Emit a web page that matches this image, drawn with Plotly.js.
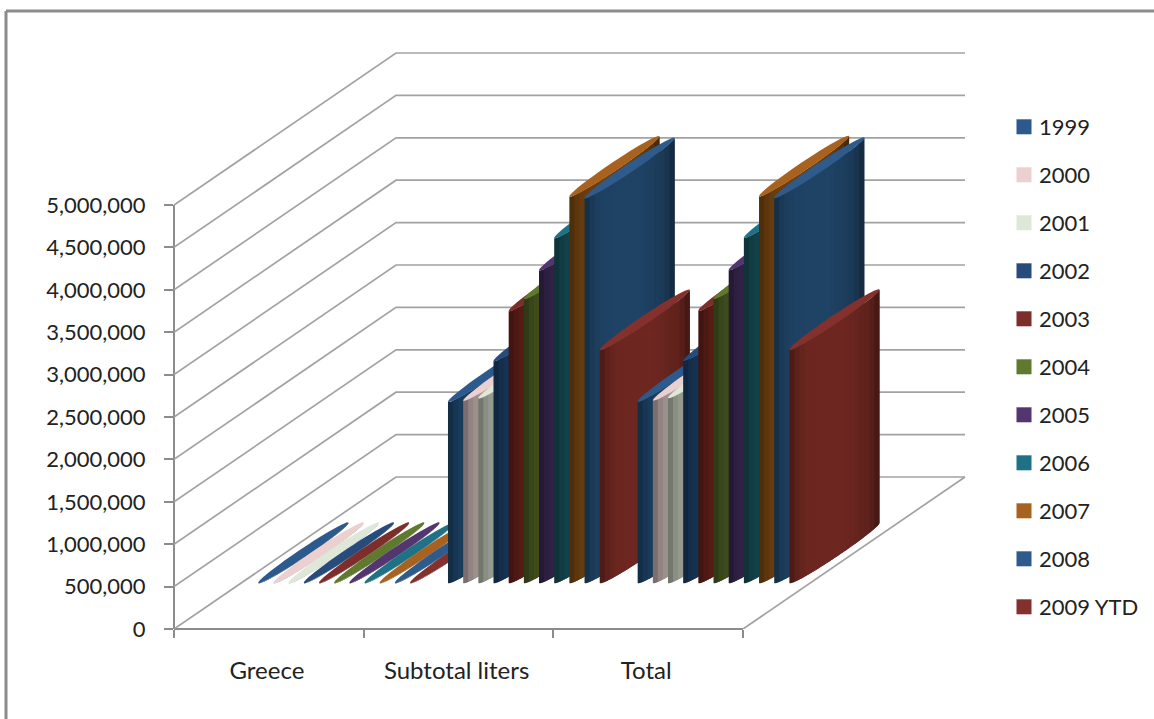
<!DOCTYPE html>
<html>
<head>
<meta charset="utf-8">
<title>Liters by year</title>
<script src="https://cdn.plot.ly/plotly-3.0.1.min.js"></script>
<style>
  html, body { margin: 0; padding: 0; background: #ffffff; overflow: hidden; }
  #chart { width: 1154px; height: 719px; }
</style>
</head>
<body>
<div id="chart"></div>
<script>
// Chart content
const categories = ['Greece', 'Subtotal liters', 'Total'];
const seriesNames = ['1999', '2000', '2001', '2002', '2003', '2004', '2005', '2006', '2007', '2008', '2009 YTD'];
const greeceLiters   = [3000, 3000, 3000, 3000, 3000, 3000, 3000, 3000, 3000, 3000, 3000];
const subtotalLiters = [2138000, 2150000, 2180000, 2620000, 3210000, 3350000, 3690000, 4070000, 4560000, 4540000, 2750000];
const totalLiters    = [2141000, 2153000, 2183000, 2623000, 3213000, 3353000, 3693000, 4073000, 4563000, 4543000, 2753000];
const valueTicks = [0, 500000, 1000000, 1500000, 2000000, 2500000, 3000000, 3500000, 4000000, 4500000, 5000000];

// Cap colour and the brightest side colour of each cylinder
const capColors  = ['#2c5a8c', '#ebd0cf', '#dee7d8', '#274c7c', '#7d2e2b', '#5f7a2e', '#53366f', '#1f7285', '#a8621f', '#2e5b8c', '#84312d'];
const sideColors = ['#1c4062', '#ab9b9a', '#a1a899', '#18365a', '#5c1e17', '#42521f', '#34254b', '#15474f', '#6f4011', '#1f4365', '#6e2720'];

// Side shading across the cylinder, from its left edge (0) to its right edge (1)
const shadeStops = [[0, .62], [.06, .82], [.17, .96], [.35, 1], [.6, 1], [.85, .88], [.95, .72], [1, .56]];
const BANDS = 18;

const valuesByCategory = [greeceLiters, subtotalLiters, totalLiters];
const axisTop = 5000000;
const gridColor = '#a2a2a2';
const axisColor = '#8c8c8c';
const textColor = '#222222';
const fontFamily = 'Lato, "Open Sans", sans-serif';

// Scale of the value axis and category axis, in page pixels
const FRONT_W = 569, FRONT_H = 424;
const CAT_PX = FRONT_W / categories.length;
const VALUE_PX = FRONT_H / axisTop;

// Oblique projection: a step along the depth axis moves right and up on the page
const SHIFT_X = 222, SHIFT_Y = 152;
const DEPTH_X = SHIFT_X / CAT_PX;     // category units at full depth
const DEPTH_V = SHIFT_Y / VALUE_PX;   // value units at full depth
const project = (cat, depth, value) => [cat + depth * DEPTH_X, value + depth * DEPTH_V];

// Cylinder footprint
const BAR_STEP = 0.08;       // category units between neighbouring series
const BAR_HALF = 0.04;
const BAR_START = 0.0968;
const DEPTH_MID = 0.5, DEPTH_HALF = 0.2;
// Ellipse angle at which the footprint has its left/right silhouette edge
const PHI = Math.atan((BAR_HALF * CAT_PX) / (DEPTH_HALF * SHIFT_X));

const footprint = (centre, t, value) =>
  project(centre + BAR_HALF * Math.cos(t), DEPTH_MID + DEPTH_HALF * Math.sin(t), value);

function shade(hex, f) {
  let k = 1;
  for (let i = 1; i < shadeStops.length; i++) {
    const [a, ka] = shadeStops[i - 1], [b, kb] = shadeStops[i];
    if (f <= b) { k = ka + (kb - ka) * (f - a) / (b - a); break; }
  }
  const n = parseInt(hex.slice(1), 16);
  return 'rgb(' + [(n >> 16) & 255, (n >> 8) & 255, n & 255].map(c => Math.round(c * k)).join(',') + ')';
}

function polygonTrace(xs, ys, color) {
  return {
    type: 'scatter', mode: 'none', x: xs, y: ys, fill: 'toself', fillcolor: color,
    hoverinfo: 'skip', showlegend: false
  };
}

const traces = [];

// Side wall and back wall gridlines
const gridX = [], gridY = [];
valueTicks.forEach(v => {
  [project(0, 0, v), project(0, 1, v), project(categories.length, 1, v)].forEach(p => { gridX.push(p[0]); gridY.push(p[1]); });
  gridX.push(null); gridY.push(null);
});
// Right edge of the floor
[project(categories.length, 0, 0), project(categories.length, 1, 0)].forEach(p => { gridX.push(p[0]); gridY.push(p[1]); });
traces.push({
  type: 'scatter', mode: 'lines', x: gridX, y: gridY, line: { color: gridColor, width: 1.7 },
  hoverinfo: 'skip', showlegend: false
});

// Cylinders: banded side surface, then the elliptical cap.
// Each band runs on under the next one so no seams show between them.
valuesByCategory.forEach((values, c) => {
  values.forEach((value, s) => {
    const centre = c + BAR_START + s * BAR_STEP;
    for (let b = 0; b < BANDS; b++) {
      const f0 = b / BANDS, f1 = Math.min(1, (b + 2) / BANDS);
      const t0 = Math.asin(2 * f0 - 1) - PHI, t1 = Math.asin(2 * f1 - 1) - PHI;
      const xs = [], ys = [];
      for (let i = 0; i <= 6; i++) {
        const p = footprint(centre, t0 + (t1 - t0) * i / 6, 0);
        xs.push(p[0]); ys.push(p[1]);
      }
      for (let i = 6; i >= 0; i--) {
        const p = footprint(centre, t0 + (t1 - t0) * i / 6, value);
        xs.push(p[0]); ys.push(p[1]);
      }
      xs.push(xs[0]); ys.push(ys[0]);
      traces.push(polygonTrace(xs, ys, shade(sideColors[s], (b + 0.5) / BANDS)));
    }
    const capX = [], capY = [];
    for (let i = 0; i <= 48; i++) {
      const p = footprint(centre, i / 48 * 2 * Math.PI, value);
      capX.push(p[0]); capY.push(p[1]);
    }
    traces.push(polygonTrace(capX, capY, capColors[s]));
  });
});

// Legend entries
seriesNames.forEach((name, s) => {
  traces.push({
    type: 'scatter', mode: 'markers', x: [null], y: [null], name: name, legendgroup: name,
    marker: { symbol: 'square', size: 15, color: capColors[s], line: { width: 0 } },
    hoverinfo: 'skip', showlegend: true
  });
});

// Plot area runs past the front axes so the back wall and tall cylinders stay inside it
const marginL = 174, baseY = 629, plotRight = 1000, plotTop = 20;
const PLOT_W = plotRight - marginL, PLOT_H = baseY - plotTop;
const frameLine = (x0, y0, x1, y1, width, layer) => ({
  type: 'line', xref: 'paper', yref: 'paper', layer: layer,
  x0: (x0 - marginL) / PLOT_W, x1: (x1 - marginL) / PLOT_W,
  y0: (baseY - y0) / PLOT_H, y1: (baseY - y1) / PLOT_H,
  line: { color: axisColor, width: width }
});
const LEGEND_LEFT = 999, LEGEND_SLIDE = 30;
const layout = {
  width: 1154, height: 719,
  margin: { l: marginL, t: plotTop, r: 1154 - plotRight, b: 719 - baseY, pad: 0 },
  paper_bgcolor: '#ffffff', plot_bgcolor: 'rgba(0,0,0,0)',
  font: { family: fontFamily, size: 22, color: textColor },
  showlegend: true,
  legend: {
    // Laid out further left so its box does not squeeze the plot area, then slid into place below
    x: (LEGEND_LEFT - LEGEND_SLIDE - marginL) / PLOT_W, y: (baseY - 106) / PLOT_H, xanchor: 'left', yanchor: 'top',
    tracegroupgap: 16.4, font: { family: fontFamily, size: 22, color: textColor },
    bgcolor: 'rgba(0,0,0,0)', traceorder: 'grouped'
  },
  xaxis: {
    range: [0, PLOT_W / CAT_PX], showgrid: false, zeroline: false, showline: false,
    tickmode: 'array', tickvals: categories.map((_, i) => i + 0.49), ticktext: categories,
    ticks: '', ticklabelstandoff: 25,
    tickfont: { family: fontFamily, size: 24, color: textColor },
    minor: { tickmode: 'array', tickvals: [0, 1, 2, 3], ticks: 'outside', ticklen: 8, tickwidth: 2, tickcolor: axisColor, showgrid: false }
  },
  yaxis: {
    range: [0, PLOT_H / VALUE_PX], showgrid: false, zeroline: false, showline: false,
    tickmode: 'array', tickvals: valueTicks, tickformat: ',d',
    ticks: 'outside', ticklen: 9, tickwidth: 2, tickcolor: axisColor, ticklabelstandoff: 14,
    tickfont: { family: fontFamily, size: 22, color: textColor }
  },
  shapes: [
    // Front edges of the value axis and the category axis
    frameLine(174, 205, 174, 629, 2, 'below'),
    frameLine(174, 629, 174 + FRONT_W, 629, 2, 'below'),
    // Outer chart frame (top and left edges)
    frameLine(6, 11, 6, 719, 3, 'above'),
    frameLine(6, 11, 1154, 11, 3, 'above')
  ]
};

Plotly.newPlot('chart', traces, layout, { displayModeBar: false, staticPlot: true, responsive: false }).then(() => {
  // Bring the legend swatches closer to their labels
  document.querySelectorAll('#chart .legendsymbols').forEach(g => g.setAttribute('transform', 'translate(5,0)'));
  const legend = document.querySelector('#chart .legend');
  const m = /translate\(([-\d.]+),\s*([-\d.]+)\)/.exec(legend.getAttribute('transform'));
  legend.setAttribute('transform', 'translate(' + (parseFloat(m[1]) + LEGEND_SLIDE) + ',' + m[2] + ')');
  // Let long entries run past the legend's own clip box
  const scrollbox = legend.querySelector('.scrollbox');
  if (scrollbox) scrollbox.removeAttribute('clip-path');
});
</script>
</body>
</html>
